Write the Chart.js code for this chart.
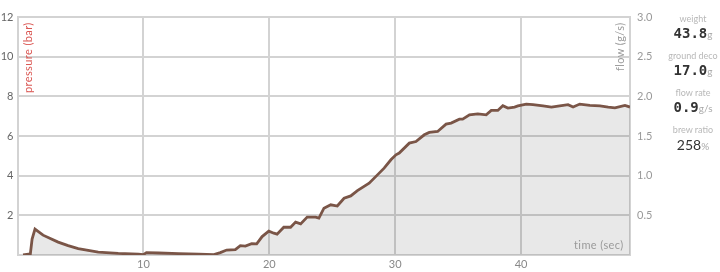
<!DOCTYPE html>
<html><head><meta charset="utf-8">
<script src="https://cdn.jsdelivr.net/npm/chart.js@4"></script>
<style>
html,body{margin:0;padding:0;background:#fff;width:720px;height:272px;overflow:hidden;font-family:Lato,"DejaVu Sans",sans-serif;}
#wrap{position:absolute;left:0;top:0;width:720px;height:272px;}
.rot{position:absolute;transform-origin:0 0;transform:rotate(-90deg);white-space:nowrap;font-size:11px;letter-spacing:0.4px;}
#panel{position:absolute;left:664px;top:0;width:58px;overflow:hidden;text-align:center;}
.lbl{font-size:9px;color:#b8b8b8;white-space:nowrap;height:12px;}
.val{font-family:"DejaVu Sans Mono",monospace;font-weight:bold;font-size:14px;color:#333;white-space:nowrap;}
.unit{font-family:Lato,sans-serif;font-weight:normal;font-size:10px;color:#aaa;}
</style></head><body>
<div id="wrap"><canvas id="c" width="720" height="272"></canvas></div>
<div class="rot" style="left:21px;top:93px;color:#d9534f;">pressure (bar)</div>
<div class="rot" style="left:613px;top:71px;color:#9a9a9a;">flow (g/s)</div>
<div style="position:absolute;left:574px;top:238px;font-size:11px;color:#9a9a9a;letter-spacing:0.4px;">time (sec)</div>
<div id="panel">
  <div class="lbl" style="margin-top:13px;">weight</div>
  <div class="val">43.8<span class="unit">g</span></div>
  <div class="lbl" style="margin-top:9px;">ground deco</div>
  <div class="val">17.0<span class="unit">g</span></div>
  <div class="lbl" style="margin-top:9px;">flow rate</div>
  <div class="val">0.9<span class="unit">g/s</span></div>
  <div class="lbl" style="margin-top:9px;">brew ratio</div>
  <div class="val" style="font-family:Lato,sans-serif;font-weight:normal;font-size:14px;">258<span class="unit">%</span></div>
</div>
<script>
const timeSec = [0.44,1.02,1.16,1.39,2.03,3.23,4.02,4.82,6.41,8.0,9.6,10.0,10.24,11.2,12.8,14.4,15.6,16.11,16.61,17.3,17.7,18.1,18.6,19.0,19.43,19.96,20.36,20.62,21.15,21.69,22.09,22.49,23.01,23.68,23.94,24.34,24.88,25.4,25.94,26.47,27.0,27.93,28.59,29.12,29.66,30.06,30.32,31.12,31.65,32.31,32.71,33.37,34.04,34.44,35.1,35.36,35.9,36.56,37.23,37.63,38.15,38.55,38.95,39.48,39.75,40.41,40.94,41.74,42.41,43.07,43.73,44.13,44.66,45.46,46.26,46.92,47.45,48.25,48.65];
const values = [0,0.05,0.8,1.31,1.0,0.65,0.47,0.32,0.15,0.08,0.04,0.02,0.12,0.1,0.07,0.04,0.02,0.12,0.25,0.27,0.47,0.45,0.57,0.56,0.93,1.2,1.1,1.05,1.4,1.4,1.66,1.57,1.91,1.91,1.86,2.36,2.53,2.47,2.86,2.98,3.25,3.62,4.04,4.38,4.8,5.05,5.14,5.64,5.72,6.06,6.18,6.23,6.6,6.65,6.85,6.85,7.07,7.12,7.07,7.29,7.29,7.53,7.41,7.46,7.52,7.61,7.58,7.52,7.46,7.52,7.58,7.46,7.61,7.54,7.52,7.46,7.42,7.54,7.46];
const pressureTicks = [0,2,4,6,8,10,12];
const flowTicks = [0,0.5,1.0,1.5,2.0,2.5,3.0];
const timeTicks = [0,10,20,30,40];

const pts = timeSec.map((t,i)=>({x:t,y:values[i]}));
const gridColor = '#d3d3d3';
new Chart(document.getElementById('c'),{
  type:'line',
  data:{datasets:[{data:pts,borderColor:'#7a5547',borderWidth:2.8,pointRadius:0,tension:0,
    fill:'origin',backgroundColor:'rgba(0,0,0,0.09)',yAxisID:'y'}]},
  options:{
    responsive:false,animation:false,
    layout:{padding:{top:17,left:0,right:60,bottom:0}},
    plugins:{legend:{display:false},tooltip:{enabled:false}},
    scales:{
      x:{type:'linear',min:0,max:48.65,
        afterBuildTicks:s=>{s.ticks=timeTicks.map(v=>({value:v}));},
        afterFit:s=>{s.height=17;},
        grid:{color:gridColor,lineWidth:2,drawTicks:false},
        border:{color:gridColor,width:2},
        ticks:{padding:3,color:'#888',font:{family:'Lato',size:11},maxRotation:0,
          callback:v=>v===0?'':String(v)}},
      y:{position:'left',min:0,max:12,
        afterBuildTicks:s=>{s.ticks=pressureTicks.map(v=>({value:v}));},
        afterFit:s=>{s.width=17.5;},
        grid:{color:gridColor,lineWidth:2,drawTicks:false},
        border:{color:gridColor,width:2},
        ticks:{padding:4,color:'#666',font:{family:'Lato',size:11},
          callback:v=>v===0?'':String(v)}},
      y2:{position:'right',min:0,max:3,
        afterBuildTicks:s=>{s.ticks=flowTicks.map(v=>({value:v}));},
        afterFit:s=>{s.width=30;},
        grid:{display:false,drawTicks:false},
        border:{color:gridColor,width:2},
        ticks:{padding:7,color:'#999',font:{family:'Lato',size:11},
          callback:v=>v===0?'':Number(v).toFixed(1)}}
    }
  }
});
</script>
</body></html>
